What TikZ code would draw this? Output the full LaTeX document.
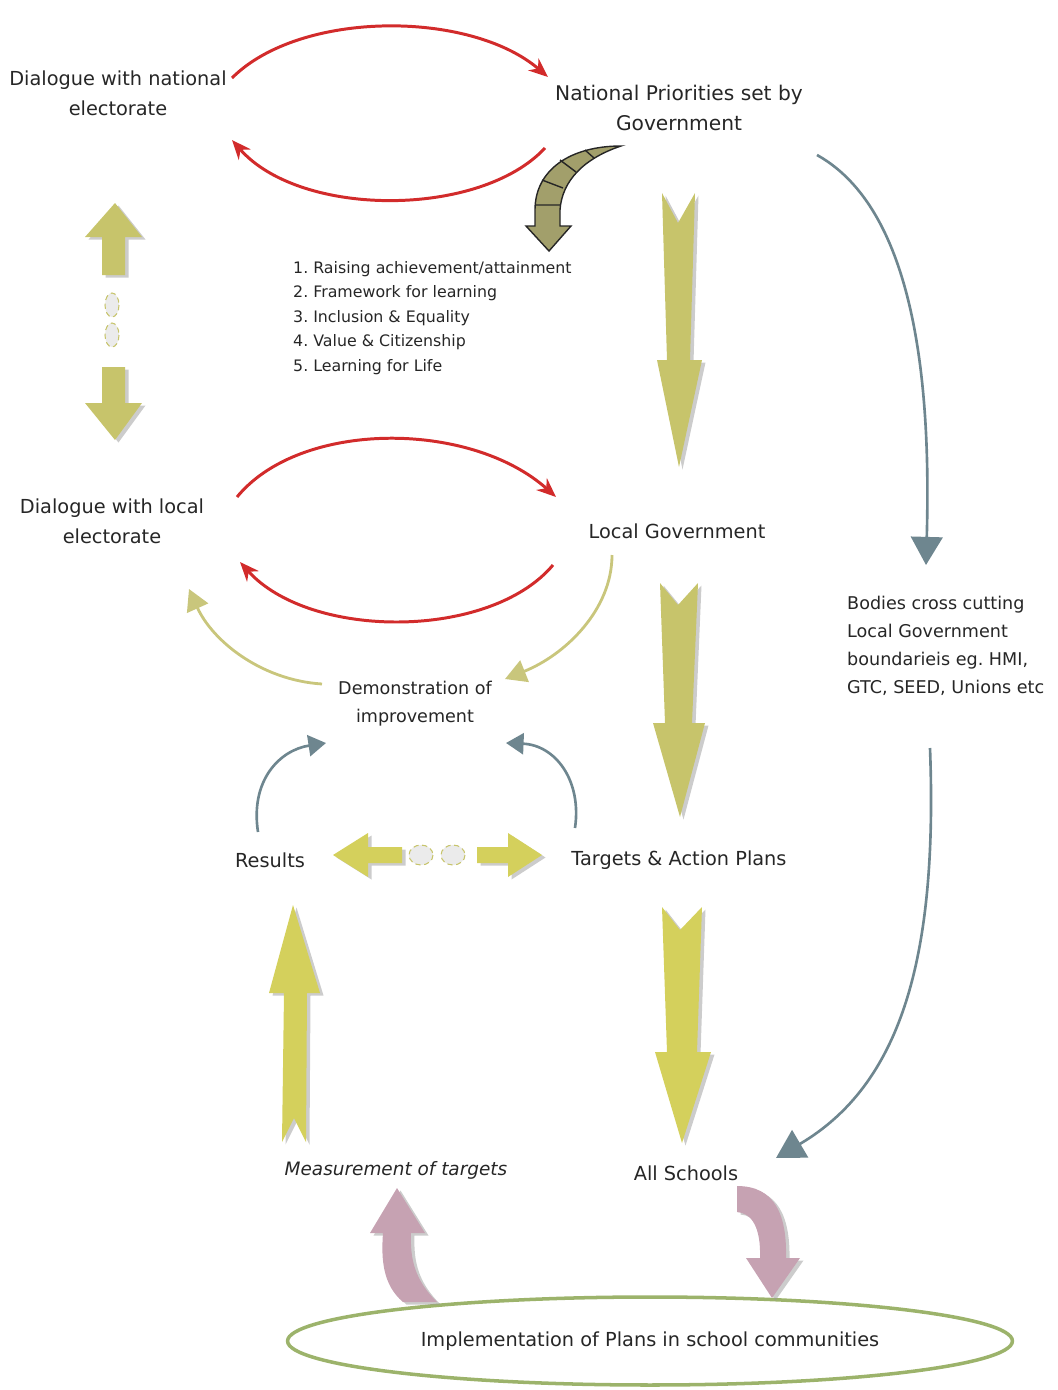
\documentclass[tikz,border=0pt]{standalone}
\usepackage{fontspec}
\setmainfont{DejaVu Sans}
\usetikzlibrary{arrows.meta,shadows,shapes.geometric}

\definecolor{arcred}{HTML}{D22B2B}
\definecolor{khaki}{HTML}{C7C46B}
\definecolor{lemon}{HTML}{D4D05C}
\definecolor{thinolive}{HTML}{C9C67C}
\definecolor{slate}{HTML}{6E868F}
\definecolor{mauve}{HTML}{C6A2B2}
\definecolor{ringgreen}{HTML}{9CB36B}
\definecolor{darkkhaki}{HTML}{A29F6B}

\begin{document}
\begin{tikzpicture}[x=0.02cm, y=-0.02cm,
  lbl/.style={align=center, text=black!85, font=\fontsize{11}{17}\selectfont},
  small/.style={align=left, text=black!85, font=\fontsize{9}{14}\selectfont},
  redarc/.style={draw=arcred, line width=1.7pt, -{Stealth[length=11pt, width=9pt]}},
  olivearc/.style={draw=thinolive, line width=1.6pt, -{Triangle[length=12pt, width=13pt]}},
  slatearc/.style={draw=slate, line width=1.5pt, -{Triangle[length=16pt, width=18pt]}},
  slatesmall/.style={draw=slate, line width=1.5pt, -{Triangle[length=10pt, width=12pt]}},
  block/.style={fill=#1, drop shadow={shadow xshift=0.07cm, shadow yshift=-0.05cm, fill=black!40}},
  link/.style={draw=khaki, densely dashed, line width=0.6pt, fill=black!8},
  twist/.style={fill=darkkhaki, draw=black!85, line width=0.8pt}
]
  \useasboundingbox (0,0) rectangle (1058,1390);

  % labels
  \node[lbl] (natdia) at (118,93) {Dialogue with national\\electorate};
  \node[lbl, font=\fontsize{11.5}{17}\selectfont] (natpri) at (679,108) {National Priorities set by\\Government};
  \node[small, anchor=west] (prio) at (287,318) {1.\ Raising achievement/attainment\\2.\ Framework for learning\\3.\ Inclusion \& Equality\\4.\ Value \& Citizenship\\5.\ Learning for Life};
  \node[lbl] (locdia) at (112,521) {Dialogue with local\\electorate};
  \node[lbl] (locgov) at (677,531) {Local Government};
  \node[small, anchor=west, font=\fontsize{10}{16}\selectfont] (bodies) at (841,646) {Bodies cross cutting\\Local Government\\boundarieis eg.\ HMI,\\GTC, SEED, Unions etc};
  \node[lbl, font=\fontsize{10}{16}\selectfont] (demo) at (415,704) {Demonstration of\\improvement};
  \node[lbl] (results) at (270,860) {Results};
  \node[lbl] (targets) at (679,860) {Targets \& Action Plans};
  \node[lbl, font=\itshape\fontsize{10.5}{17}\selectfont] (measure) at (396,1170) {Measurement of targets};
  \node[lbl] (schools) at (686,1173) {All Schools};
  \node[lbl, ellipse, draw=ringgreen, line width=2pt, minimum width=14.5cm, minimum height=1.76cm, inner sep=0pt] (impl) at (650,1341) {Implementation of Plans in school communities};

  % end points of the thin connectors
  \coordinate (natA) at (232,78);  \coordinate (natB) at (548,77);
  \coordinate (natC) at (545,148); \coordinate (natD) at (232,140);
  \coordinate (locA) at (237,497); \coordinate (locB) at (556,497);
  \coordinate (locC) at (553,565); \coordinate (locD) at (240,562);
  \coordinate (govout) at (612,555); \coordinate (demoin) at (505,679);
  \coordinate (demoout) at (322,684); \coordinate (diain) at (189,589);
  \coordinate (priout) at (817,155); \coordinate (bodin) at (926,565);
  \coordinate (bodout) at (930,748); \coordinate (schin) at (776,1158);
  \coordinate (resout) at (258,832); \coordinate (resin) at (326,743);
  \coordinate (tarout) at (575,828); \coordinate (tarin) at (506,743);

  \draw[redarc] (natA) .. controls (300,10) and (470,10) .. (natB);
  \draw[redarc] (natC) .. controls (480,218) and (300,218) .. (natD);
  \draw[redarc] (locA) .. controls (300,420) and (470,420) .. (locB);
  \draw[redarc] (locC) .. controls (490,640) and (310,640) .. (locD);
  \draw[olivearc] (govout) .. controls (612,610) and (565,655) .. (demoin);
  \draw[olivearc] (demoout) .. controls (260,680) and (212,640) .. (diain);
  \draw[slatearc] (priout) .. controls (925,215) and (930,420) .. (bodin);
  \draw[slatearc] (bodout) .. controls (938,960) and (900,1085) .. (schin);
  \draw[slatesmall] (resout) .. controls (250,780) and (280,750) .. (resin);
  \draw[slatesmall] (tarout) .. controls (582,780) and (555,745) .. (tarin);

  % block arrows
  \fill[block=khaki] (662,193) -- (678,223) -- (695,193) -- (690,360) -- (702,360) -- (679,467) -- (657,360) -- (667,360) -- cycle;
  \fill[block=khaki] (660,583) -- (678,605) -- (698,583) -- (692,723) -- (705,723) -- (680,817) -- (653,723) -- (665,723) -- cycle;
  \fill[block=lemon] (662,907) -- (680,930) -- (702,907) -- (697,1052) -- (711,1052) -- (682,1143) -- (655,1052) -- (667,1052) -- cycle;
  \fill[block=lemon] (293,905) -- (320,993) -- (307,993) -- (306,1142) -- (294,1118) -- (282,1142) -- (284,993) -- (269,993) -- cycle;

  \fill[block=khaki] (115,203) -- (142,237) -- (125,237) -- (125,275) -- (102,275) -- (102,237) -- (85,237) -- cycle;
  \fill[block=khaki] (102,367) -- (125,367) -- (125,403) -- (142,403) -- (115,440) -- (85,403) -- (102,403) -- cycle;
  \draw[link] (112,305) ellipse (7 and 12);
  \draw[link] (112,335) ellipse (7 and 12);

  \fill[block=lemon] (333,855) -- (368,833) -- (368,847) -- (402,847) -- (402,863) -- (368,863) -- (368,877) -- cycle;
  \fill[block=lemon] (477,847) -- (508,847) -- (508,833) -- (542,855) -- (508,877) -- (508,863) -- (477,863) -- cycle;
  \draw[link] (421,855) ellipse (12 and 10);
  \draw[link] (453,855) ellipse (12 and 10);

  \fill[block=mauve] (403,1302) .. controls (383,1285) and (381,1260) .. (383,1233) -- (370,1233) -- (397,1188) -- (425,1233) -- (411,1233) .. controls (410,1260) and (415,1280) .. (437,1302) -- cycle;
  \fill[block=mauve] (737,1186) .. controls (775,1186) and (787,1215) .. (786,1258) -- (800,1258) -- (772,1298) -- (746,1258) -- (760,1258) .. controls (761,1228) and (752,1213) .. (737,1212) -- cycle;

  % twisted arrow under the national priorities
  \draw[twist] (621,146) .. controls (570,146) and (535,170) .. (535,210) -- (535,226) -- (526,226) -- (549,251) -- (571,226) -- (560,226) -- (560,210) .. controls (562,180) and (585,158) .. cycle;
  \draw[black!85, line width=0.8pt] (535,205) -- (560,205) (542,180) -- (563,188) (560,160) -- (576,172) (585,150) -- (594,158);
\end{tikzpicture}
\end{document}
